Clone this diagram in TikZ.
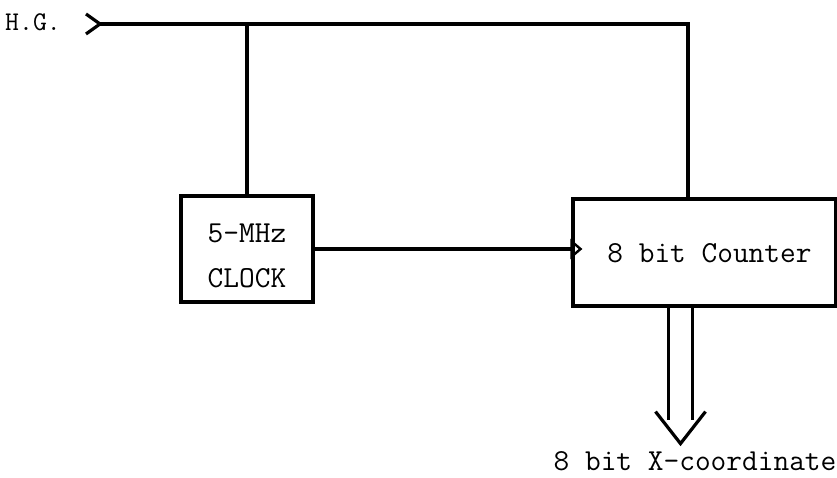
\documentclass[tikz,border=0pt]{standalone}
\usetikzlibrary{arrows.meta, positioning}

\begin{document}
\begin{tikzpicture}[
    x=1pt, y=-1pt,
    wire/.style={line width=3.2pt},
    blk/.style={rectangle, draw, line width=3.2pt, inner sep=0pt,
                align=center, font=\fontsize{30.5}{34}\selectfont\ttfamily},
    lbl/.style={inner sep=0pt, font=\fontsize{30.5}{34}\selectfont\ttfamily},
    clk/.style={-{Triangle[open, length=12pt, width=20pt, line width=2.4pt]}, shorten >=-11pt}
  ]
    \useasboundingbox (0,0) rectangle (837,478);
    \node[lbl, font=\fontsize{27}{30}\selectfont\ttfamily] (hg) at (33,22) {H.G.};
    \node[blk, minimum width=132, minimum height=106] (clock) at (247,249) {\rule{0pt}{33pt}5-MHz\\[11pt]CLOCK};
    \node[blk, minimum width=263, minimum height=107, text depth=0pt] (counter) at (704.5,252.5) {\hspace{10pt}8 bit Counter};
    \coordinate (hgin) at (100,24);
    \coordinate (topr) at (688,24);
    % H.G. input line
    \draw[wire] (hgin) +(-14,-10) -- (hgin) -- +(-14,10);
    \draw[wire] (hgin) -- (topr) -- (topr |- counter.north);
    \draw[wire] (clock.north) -- (clock.north |- hgin);
    \draw[wire, clk] (clock.east) -- (clock.east -| counter.west);
    % 8 bit output bus
    \path (counter.south) ++(-24,0) coordinate (bus);
    \draw[wire] (bus) ++(-12,0) -- ++(0,112);
    \draw[wire] (bus) ++(12,0) -- ++(0,112);
    \draw[wire, line join=miter] (bus) ++(-25,104) -- ++(25,32) coordinate (apex) -- ++(25,-32);
    \node[lbl] (xout) at (695,461) {8 bit X-coordinate};
\end{tikzpicture}
\end{document}
